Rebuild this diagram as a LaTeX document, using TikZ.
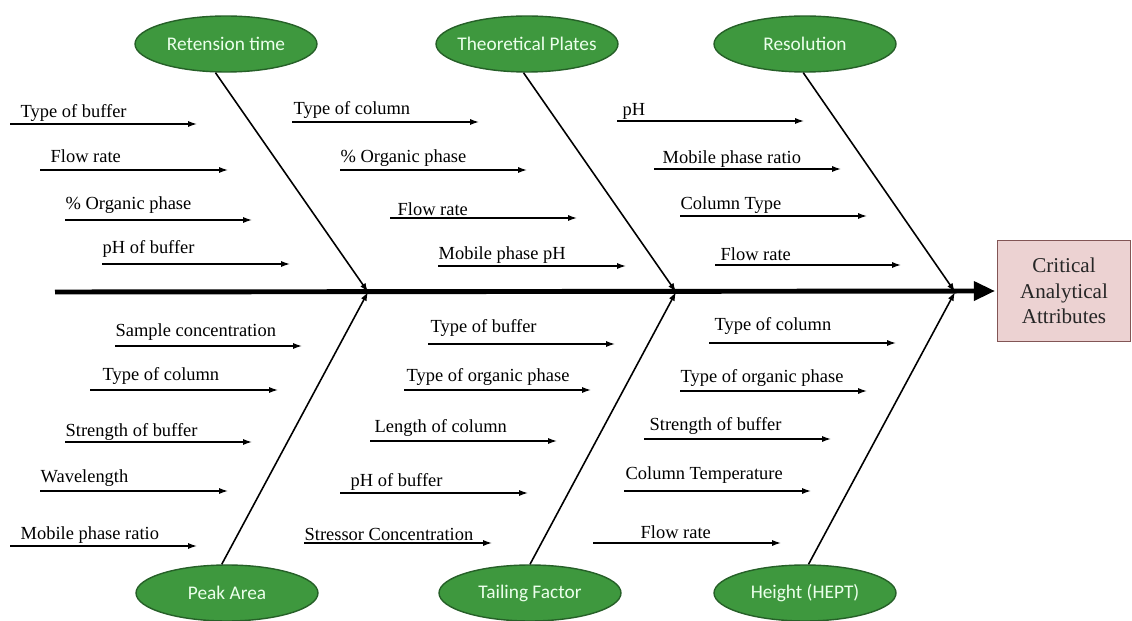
\documentclass[tikz,border=0pt]{standalone}
\usepackage{fontspec}
\setmainfont{Liberation Serif}
\newfontfamily\effectfont{Carlito}
\usetikzlibrary{shapes.geometric,arrows.meta}
\definecolor{effectgreen}{RGB}{62,152,62}
\definecolor{effectedge}{RGB}{38,96,40}
\definecolor{attrpink}{RGB}{236,210,210}
\definecolor{attredge}{RGB}{130,85,85}
\tikzset{
  effect/.style={draw=effectedge,fill=effectgreen,ellipse,thick,inner xsep=-6pt,inner ysep=1pt,
    minimum width=3.64cm,minimum height=1.12cm,text=white!92!green,font=\effectfont\fontsize{11}{13}\selectfont},
  cause/.style={-{Latex[length=5pt,width=3.4pt]},line width=0.75pt},
  bone/.style={-{Latex[length=5pt,width=3.6pt]},line width=0.9pt},
  lbl/.style={anchor=base west,inner sep=0pt,font=\fontsize{10.5}{12}\selectfont},
}
\begin{document}
\begin{tikzpicture}[x=0.02cm,y=-0.02cm]
      \clip (0,0) rectangle (1132,621);
      \fill[white] (0,0) rectangle (1132,621);

      % effects
      \node[effect] (RT) at (226,44) {Retension time};
      \node[effect] (TP) at (527,44) {Theoretical Plates};
      \node[effect] (RS) at (805,44) {Resolution};
      \node[effect] (PA) at (227,593) {Peak Area};
      \node[effect] (TF) at (530,593) {Tailing Factor};
      \node[effect] (HE) at (805,593) {Height (HEPT)};

      \node[draw=attredge,fill=attrpink,thick,rectangle,minimum width=2.66cm,minimum height=2.02cm,
        align=center,text=black!85,font=\fontsize{12}{14.5}\selectfont] (CAA) at (1064,291)
        {Critical\\Analytical\\Attributes};

      % spine
      \coordinate (Tail) at (55,292);
      \coordinate (J1) at (368,292);
      \coordinate (J2) at (676,292);
      \coordinate (J3) at (955,292);
      \draw [line width=2.8pt,-{Triangle[length=12pt,width=10.5pt]}] (Tail)--([xshift=-1pt]CAA.west);

      \draw [bone] ([xshift=-6pt]RT.south)--(J1);
      \draw [bone] ([xshift=-2pt]TP.south)--(J2);
      \draw [bone] ([xshift=-1pt]RS.south)--(J3);
      \draw [bone] ([xshift=-3pt]PA.north)--(J1);
      \draw [bone] (TF.north)--(J2);
      \draw [bone] ([xshift=2pt]HE.north)--(J3);

      % causes, top
      \draw [cause] (10,124) coordinate (a1)--(197,124) node[lbl] (ta1) at (20,118) {Type of buffer};
      \draw [cause] (40,170) coordinate (a2)--(228,170) node[lbl] (ta2) at (50,163) {Flow rate};
      \draw [cause] (65,220) coordinate (a3)--(252,220) node[lbl] (ta3) at (65,210) {\% Organic phase};
      \draw [cause] (102,264) coordinate (a4)--(290,264) node[lbl] (ta4) at (102,254) {pH of buffer};

      \draw [cause] (292,122) coordinate (b1)--(479,122) node[lbl] (tb1) at (293,115) {Type of column};
      \draw [cause] (340,170) coordinate (b2)--(527,170) node[lbl] (tb2) at (340,163) {\% Organic phase};
      \draw [cause] (390,218) coordinate (b3)--(577,218) node[lbl] (tb3) at (397,216) {Flow rate};
      \draw [cause] (438,266) coordinate (b4)--(626,266) node[lbl] (tb4) at (438,260) {Mobile phase pH};

      \draw [cause] (617,121) coordinate (c1)--(804,121) node[lbl] (tc1) at (622,116) {pH};
      \draw [cause] (654,169) coordinate (c2)--(841,169) node[lbl] (tc2) at (662,164) {Mobile phase ratio};
      \draw [cause] (680,216) coordinate (c3)--(867,216) node[lbl] (tc3) at (680,210) {Column Type};
      \draw [cause] (715,265) coordinate (c4)--(901,265) node[lbl] (tc4) at (720,261) {Flow rate};

      % causes, bottom
      \draw [cause] (115,346) coordinate (d1)--(302,346) node[lbl] (td1) at (115,337) {Sample concentration};
      \draw [cause] (90,390) coordinate (d2)--(278,390) node[lbl] (td2) at (102,380) {Type of column};
      \draw [cause] (65,442) coordinate (d3)--(252,442) node[lbl] (td3) at (65,436) {Strength of buffer};
      \draw [cause] (40,491) coordinate (d4)--(228,491) node[lbl] (td4) at (40,482) {Wavelength};
      \draw [cause] (10,546) coordinate (d5)--(197,546) node[lbl] (td5) at (20,539) {Mobile phase ratio};

      \draw [cause] (428,344) coordinate (e1)--(615,344) node[lbl] (te1) at (430,333) {Type of buffer};
      \draw [cause] (404,390) coordinate (e2)--(591,390) node[lbl] (te2) at (406,381) {Type of organic phase};
      \draw [cause] (370,441) coordinate (e3)--(557,441) node[lbl] (te3) at (374,432) {Length of column};
      \draw [cause] (340,493) coordinate (e4)--(528,493) node[lbl] (te4) at (350,486) {pH of buffer};
      \draw [cause] (304,543) coordinate (e5)--(492,543) node[lbl] (te5) at (304,540) {Stressor Concentration};

      \draw [cause] (709,343) coordinate (f1)--(896,343) node[lbl] (tf1) at (714,331) {Type of column};
      \draw [cause] (680,391) coordinate (f2)--(867,391) node[lbl] (tf2) at (680,382) {Type of organic phase};
      \draw [cause] (644,439) coordinate (f3)--(831,439) node[lbl] (tf3) at (649,430) {Strength of buffer};
      \draw [cause] (624,491) coordinate (f4)--(811,491) node[lbl] (tf4) at (625,479) {Column Temperature};
      \draw [cause] (593,543) coordinate (f5)--(781,543) node[lbl] (tf5) at (640,538) {Flow rate};
    \end{tikzpicture}
\end{document}
